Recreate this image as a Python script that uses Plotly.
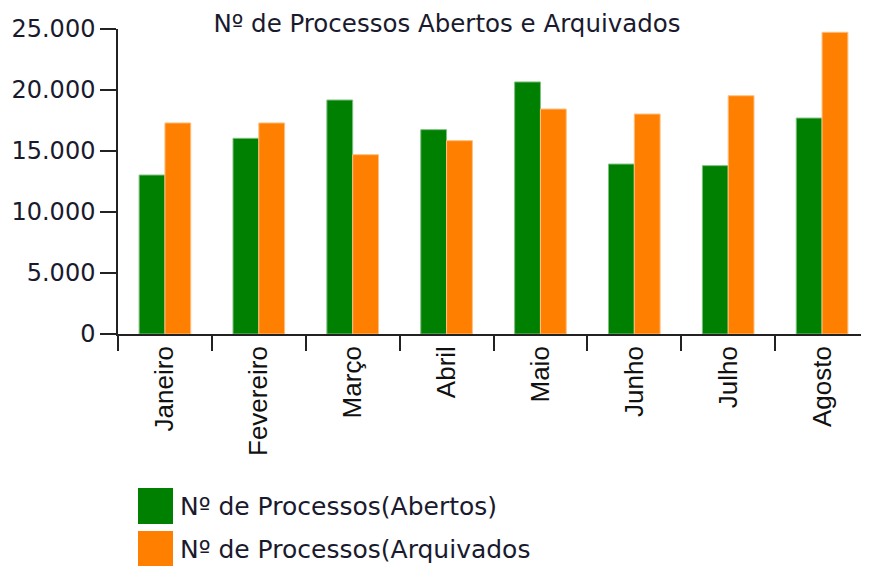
import plotly.graph_objects as go

months = ["Janeiro", "Fevereiro", "Março", "Abril", "Maio", "Junho", "Julho", "Agosto"]
abertos = [13030, 16040, 19180, 16750, 20660, 13930, 13800, 17700]
arquivados = [17300, 17300, 14700, 15850, 18440, 18030, 19530, 24730]
y_ticks = [0, 5000, 10000, 15000, 20000, 25000]
name_abertos = "Nº de Processos(Abertos)"
name_arquivados = "Nº de Processos(Arquivados"
title_text = "Nº de Processos Abertos e Arquivados"

GREEN = "#008000"
ORANGE = "#FF8000"

fig = go.Figure()
fig.add_trace(go.Bar(x=months, y=abertos, name=name_abertos,
                     marker=dict(color=GREEN, line=dict(color="#7fbf7f", width=1))))
fig.add_trace(go.Bar(x=months, y=arquivados, name=name_arquivados,
                     marker=dict(color=ORANGE, line=dict(color="#ffbf80", width=1))))

# page has an 8px body margin: figure coords = page coords - 8
OFF = 8
W, H = 869 - OFF, 566 - OFF
L = 118 - OFF
T = 29 - OFF
B = 566 - 334
PW = W - L
PH = H - T - B

def px_x(page_x):
    return (page_x - OFF - L) / PW

def px_y(page_y):
    return (H - B - (page_y - OFF)) / PH

fig.update_layout(
    width=W, height=H,
    margin=dict(l=L, r=0, t=T, b=B, pad=0),
    paper_bgcolor="white", plot_bgcolor="white",
    separators=",.",
    barmode="group", bargap=0.45, bargroupgap=0,
    showlegend=False,
    font=dict(family="DejaVu Sans", color="#1a1a2e"),
    title=dict(text=title_text, x=(447 - OFF) / W, xanchor="center", xref="container",
               y=1 - (23 - OFF) / H, yanchor="middle", yref="container",
               font=dict(family="DejaVu Sans", size=24.5, color="#1a1a2e")),
    xaxis=dict(
        type="category", range=[-0.5, 7.5],
        showline=True, linecolor="#222", linewidth=1.5,
        ticks="outside", ticklen=15, tickwidth=1.5, tickcolor="#222",
        tickson="boundaries", tickangle=-90,
        tickfont=dict(family="Liberation Sans", size=26, color="#111"),
        showgrid=False, zeroline=False,
    ),
    yaxis=dict(
        range=[0, 25000], tickvals=y_ticks, tickformat=",d",
        showline=True, linecolor="#222", linewidth=1.5,
        ticks="outside", ticklen=16, tickwidth=1.5, tickcolor="#222",
        tickfont=dict(family="DejaVu Sans", size=24, color="#1a1a2e"),
        showgrid=False, zeroline=False,
    ),
)

# Manual legend with large swatches (paper coordinates)
legend_items = [(name_abertos, GREEN, 488, 524, 506), (name_arquivados, ORANGE, 531, 570, 549)]
for text, color, ytop, ybot, yc in legend_items:
    fig.add_shape(type="rect", xref="paper", yref="paper",
                  x0=px_x(138), x1=px_x(173),
                  y0=px_y(ybot), y1=px_y(ytop),
                  fillcolor=color, line=dict(width=0))
    fig.add_annotation(text=text, xref="paper", yref="paper",
                       x=px_x(178), y=px_y(yc),
                       xanchor="left", yanchor="middle", showarrow=False,
                       font=dict(family="DejaVu Sans", size=25, color="#1a1a2e"))

fig.write_html("out.html")
